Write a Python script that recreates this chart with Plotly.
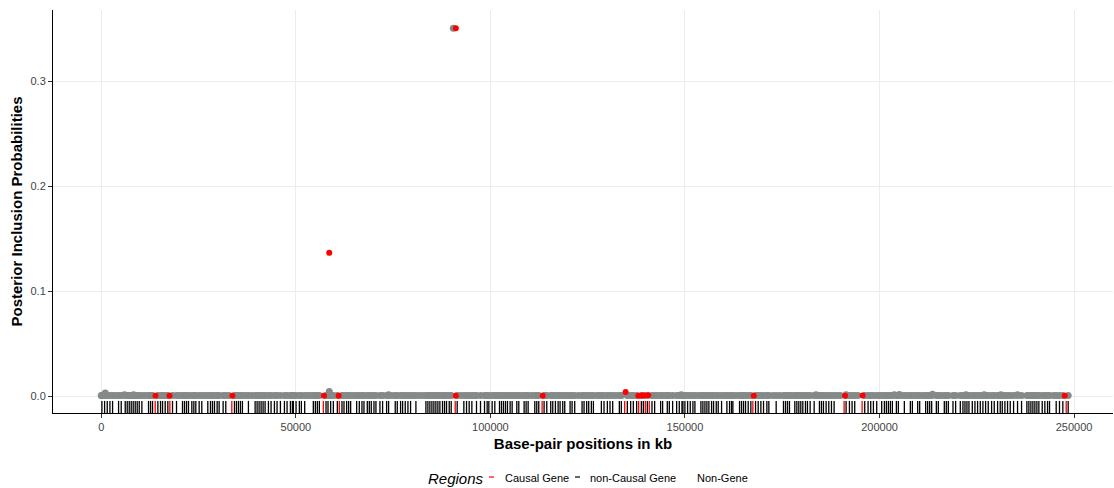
import plotly.graph_objects as go

# ---- gene positions (kb) drawn as a rug along the bottom of the panel ----
noncausal_gene_kb = [
    170, 860, 1540, 2230, 2910, 4450, 5130, 6160, 6670, 7190, 7700, 8210, 8730, 9240, 9760,
    10440, 12150, 12670, 13180, 14550, 15230, 15750, 16430, 17110, 18310, 19340, 20880, 21390,
    21910, 22420, 23280, 23790, 24300, 25160, 25840, 27380, 28070, 28580, 29100, 29780, 30290,
    31320, 32000, 34230, 34740, 35260, 35770, 36280, 37820, 39540, 40050, 40560, 41080, 41590,
    42100, 42960, 43640, 44500, 45180, 46040, 47070, 47750, 48610, 49120,
    49370, 50060, 50910, 51430, 52280, 54500, 55020, 55530, 56050, 57760, 58270, 58950, 59640,
    60670, 61860, 62380, 63060, 63580, 64090, 65630, 66310, 67000, 67510, 68370, 68880, 69390,
    70080, 70590, 71620, 72300, 73330, 73840, 75550, 76070, 76920, 77440, 78120, 78810, 79490,
    80860, 83430, 83940, 84450, 84970, 85480, 85990, 86510, 87020, 87700, 88220, 88730, 89420,
    89930, 91470, 93180, 93870, 94550, 95240, 96430, 97460, 98490, 99170,
    99600, 100450, 101140, 102340, 102850, 103360, 103880, 104390, 105070, 105590, 106790,
    107300, 108670, 109180, 109700, 111410, 111920, 112430, 113800, 114490, 115510, 116030,
    116710, 117400, 117910, 118590, 119110, 120480, 120990, 121670, 123560, 124070, 124750,
    125270, 125950, 126470, 128520, 129200, 130060, 130740, 131430, 133140, 133650, 135190,
    136050, 136730, 137590, 138790, 139300, 140330, 141530, 142210, 143750, 144260, 145460,
    145980, 146830, 147860, 148540, 149230,
    149480, 149990, 150680, 151360, 152050, 152560, 154100, 154610, 155130, 155640, 156150,
    156840, 157350, 158040, 158550, 159410, 160780, 161460, 161970, 162320, 164030, 164540,
    165050, 165570, 166250, 166940, 168140, 168820, 169510, 170190, 171050, 171560, 173440,
    175320, 175840, 176350, 176860, 178230, 178750, 179260, 179770, 180290, 180970, 181480,
    182170, 183200, 184560, 185080, 185590, 186280, 186960, 187650, 188330, 191410, 192270,
    192950, 193630, 196200, 197060, 197740, 198430, 199280,
    200560, 201250, 201760, 202280, 202790, 203300, 204330, 204840, 206380, 207920, 208440,
    209810, 210320, 211860, 212370, 212890, 213400, 214600, 215110, 216650, 217160, 217680,
    218880, 219560, 220760, 221440, 221960, 222470, 222980, 223840, 224520, 225200, 225890,
    226570, 227260, 227940, 228800, 229480, 230340, 231020, 231540, 232220, 232900, 233590,
    234450, 235470, 236500, 237870, 238380, 238900, 239410, 239920, 240440, 240950, 241810,
    242490, 243180, 243690, 245400, 246250, 247110, 248480,
]
causal_gene_kb = [13860, 17630, 33550, 57070, 61180, 90960, 113290, 134510, 138100,
                  139810, 140840, 167450, 190900, 195520, 247970]

# ---- SNPs outside genes (kb), near-zero inclusion probability ----
intergenic_snp_kb = [
    0, 500, 3680, 11260, 20120, 26600, 32790, 37060, 38650, 53100, 53800, 64820, 74700,
    80190, 81700, 82600, 92340, 95900, 101700, 106190, 107990, 110580, 119820, 122670,
    127400, 128000, 132270, 142970, 145010, 153380, 160090, 163150, 172580, 174330, 177500,
    183920, 189160, 189920, 194440, 199920, 205620, 207170, 209190, 211110, 215840, 244740,
]
background_pip = 0.0005

# ---- non-causal SNPs with visibly raised PIP ----
raised_snp_kb = [1030, 5980, 8290, 58600, 73840, 90476, 149050, 183700, 191400, 203800,
                 205100, 213630, 222200, 226900, 231200, 235450]
raised_snp_pip = [0.003, 0.0012, 0.0012, 0.0042, 0.0012, 0.351, 0.0012, 0.0012, 0.0012,
                  0.0012, 0.0015, 0.0016, 0.0013, 0.0013, 0.0013, 0.0012]

# ---- SNPs in causal genes ----
causal_snp_kb = [13937, 17530, 33700, 57237, 58597, 61010, 91118, 91118, 113448, 134750,
                 138010, 138858, 139628, 140577, 167684, 191140, 195657, 247604]
causal_snp_pip = [0.0003, 0.0003, 0.0003, 0.0003, 0.1366, 0.0003, 0.351, 0.0003, 0.0003,
                  0.0038, 0.0003, 0.0004, 0.0005, 0.0008, 0.0003, 0.0003, 0.0004, 0.0003]

x_ticks = [0, 50000, 100000, 150000, 200000, 250000]
y_ticks = [0.0, 0.1, 0.2, 0.3]

legend_title = "Regions"
legend_names = ["Causal Gene", "non-Causal Gene", "Non-Gene"]

GREY = "#848a87"
RED = "#ff0000"
FONT = "Liberation Sans, Arial, sans-serif"
W, H = 1114, 488
ML, MR, MT, MB = 53, 1, 10, 75


def rug_xy(positions, length=0.03):
    xs, ys = [], []
    for p in positions:
        xs += [p, p, None]
        ys += [0, length, None]
    return xs, ys


def px_x(px):
    return (px - ML) / (W - ML - MR)


def px_y(py):
    return (H - MB - py) / (H - MB - MT)


other_x = noncausal_gene_kb + intergenic_snp_kb
other_y = [background_pip] * len(other_x)

fig = go.Figure()

fig.add_trace(go.Scatter(
    x=other_x + raised_snp_kb, y=other_y + raised_snp_pip, mode="markers",
    marker=dict(color=GREY, size=7, line=dict(width=0)),
    showlegend=False, hoverinfo="skip",
))
fig.add_trace(go.Scatter(
    x=causal_snp_kb, y=causal_snp_pip, mode="markers",
    marker=dict(color=RED, size=6, line=dict(width=0)),
    showlegend=False, hoverinfo="skip",
))

rx, ry = rug_xy(noncausal_gene_kb)
fig.add_trace(go.Scatter(x=rx, y=ry, mode="lines", yaxis="y2",
                         line=dict(color="black", width=1.3), showlegend=False, hoverinfo="skip"))
rx, ry = rug_xy(causal_gene_kb)
fig.add_trace(go.Scatter(x=rx, y=ry, mode="lines", yaxis="y2",
                         line=dict(color=RED, width=1.3), showlegend=False, hoverinfo="skip"))

# legend row below the plot: title, then a short key dash before each label
legend_y = px_y(478)
annotations = [dict(
    text=f"<i>{legend_title}</i>", x=px_x(426), y=legend_y, xref="paper", yref="paper",
    xanchor="left", yanchor="middle", showarrow=False, font=dict(size=15, color="black"),
)]
shapes = []
key_specs = [(489, 503, RED), (575, 588, "black"), (682, 695, "white")]
for name, (dash_px, text_px, col) in zip(legend_names, key_specs):
    shapes.append(dict(type="line", xref="paper", yref="paper",
                       x0=px_x(dash_px), x1=px_x(dash_px + 5), y0=px_y(477), y1=px_y(477),
                       line=dict(color=col, width=1.2)))
    annotations.append(dict(
        text=name, x=px_x(text_px), y=legend_y, xref="paper", yref="paper",
        xanchor="left", yanchor="middle", showarrow=False, font=dict(size=11, color="black"),
    ))

fig.update_layout(
    width=W, height=H,
    margin=dict(l=ML, r=MR, t=MT, b=MB, autoexpand=False),
    paper_bgcolor="white", plot_bgcolor="white",
    font=dict(family=FONT, color="black"),
    showlegend=False,
    xaxis=dict(
        range=[-12400, 260000], tickvals=x_ticks, ticktext=[str(v) for v in x_ticks],
        showgrid=True, gridcolor="#ececec", gridwidth=1, zeroline=False,
        showline=True, linecolor="black", linewidth=1,
        ticks="outside", ticklen=4, tickcolor="#333333",
        tickfont=dict(size=11, color="#444444"),
        title=dict(text="<b>Base-pair positions in kb</b>", font=dict(size=15), standoff=6),
    ),
    yaxis=dict(
        range=[-0.0162, 0.3683], tickvals=y_ticks, ticktext=[f"{v:.1f}" for v in y_ticks],
        showgrid=True, gridcolor="#ececec", gridwidth=1, zeroline=False,
        showline=True, linecolor="black", linewidth=1,
        ticks="outside", ticklen=4, tickcolor="#333333",
        tickfont=dict(size=11, color="#444444"),
        title=dict(text="<b>Posterior Inclusion Probabilities</b>", font=dict(size=15), standoff=4),
    ),
    yaxis2=dict(range=[0, 1], overlaying="y", visible=False, fixedrange=True),
    annotations=annotations,
    shapes=shapes,
)

fig.write_html("out.html")
